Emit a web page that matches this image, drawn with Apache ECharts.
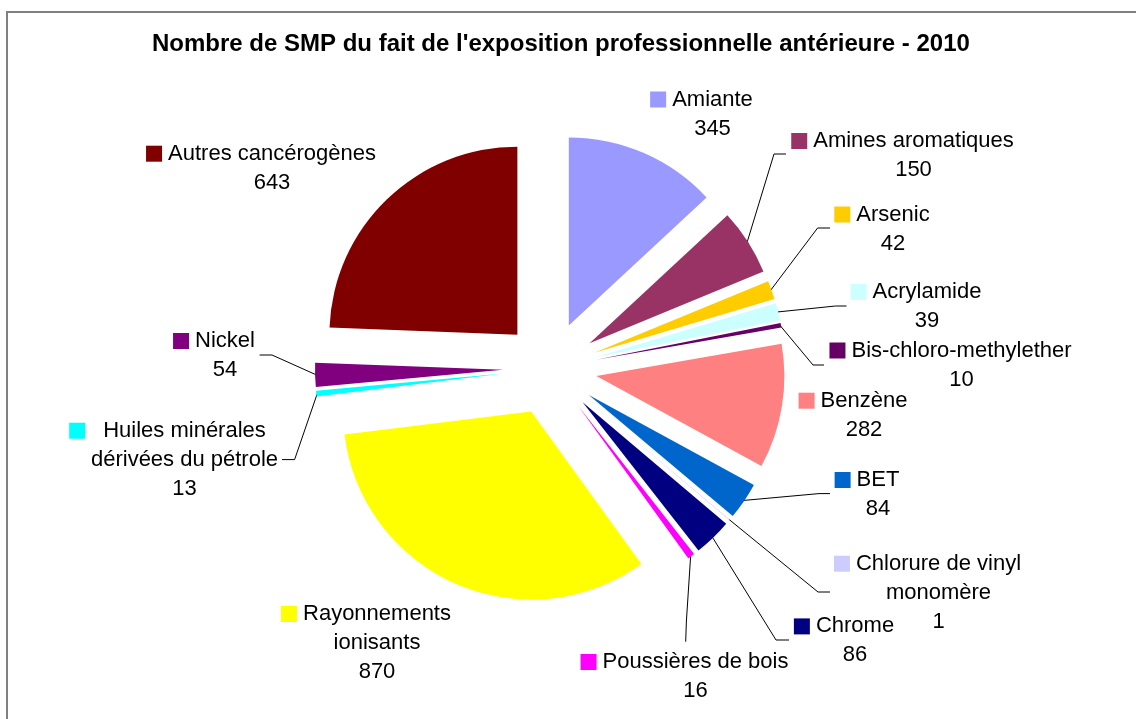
<!DOCTYPE html>
<html>
<head>
<meta charset="utf-8">
<title>SMP 2010</title>
<script src="https://cdn.jsdelivr.net/npm/echarts@6/dist/echarts.min.js"></script>
<style>
html, body {
	margin: 0;
	padding: 0;
	background: #fff;
}

#chart {
	width: 1136px;
	height: 719px;
}
</style>
</head>
<body>
<div id="chart"></div>
<script>
// data
var chartTitle = "Nombre de SMP du fait de l'exposition professionnelle antérieure - 2010";
var categories = ['Amiante', 'Amines aromatiques', 'Arsenic', 'Acrylamide', 'Bis-chloro-methylether', 'Benzène', 'BET',
	'Chlorure de vinyl monomère', 'Chrome', 'Poussières de bois', 'Rayonnements ionisants',
	'Huiles minérales dérivées du pétrole', 'Nickel', 'Autres cancérogènes'];
var values = [345, 150, 42, 39, 10, 282, 84, 1, 86, 16, 870, 13, 54, 643];
var colors = ['#9999FF', '#993366', '#FFCC00', '#CCFFFF', '#660066', '#FF8080', '#0066CC',
	'#CCCCFF', '#000080', '#FF00FF', '#FFFF00', '#00FFFF', '#800080', '#800000'];

// layout
var FONT = '"Liberation Sans", Arial, sans-serif';
var PIE_X = 550;
var PIE_Y = 368.5;
var RADIUS = 188;
var EXPLODE = 47;
var LINE_H = 29;

// line breaks of the excel labels
var labelBreaks = {
	'Chlorure de vinyl monomère': 'Chlorure de vinyl\nmonomère',
	'Rayonnements ionisants': 'Rayonnements\nionisants',
	'Huiles minérales dérivées du pétrole': 'Huiles minérales\ndérivées du pétrole'
};

// label spot: x = centre of the text, y = middle of first line, line = [elbow, end] of the leader line
var labelSpots = {
	'Amiante': { x: 712.5, y: 99.5 },
	'Amines aromatiques': { x: 913.5, y: 141, line: [[774, 154], [786, 154]] },
	'Arsenic': { x: 893, y: 214.5, line: [[817.6, 228], [830, 228]] },
	'Acrylamide': { x: 927, y: 292, line: [[835.5, 306], [846.5, 306]] },
	'Bis-chloro-methylether': { x: 961.5, y: 350.5, line: [[813, 365], [824, 365]] },
	'Benzène': { x: 864, y: 400.7 },
	'BET': { x: 878, y: 480, line: [[819, 493.6], [830, 493.6]] },
	'Chlorure de vinyl monomère': { x: 938.5, y: 563.7, line: [[818, 592], [830, 592]] },
	'Chrome': { x: 855, y: 626.4, line: [[776, 640], [789, 640]] },
	'Poussières de bois': { x: 695.5, y: 662, line: [[686.4, 621], [685.7, 641.7]] },
	'Rayonnements ionisants': { x: 377, y: 614 },
	'Huiles minérales dérivées du pétrole': { x: 184.5, y: 430.7, wide: true, line: [[294.6, 459.6], [282, 459.6]] },
	'Nickel': { x: 225, y: 341, line: [[272, 355], [259.6, 355]] },
	'Autres cancérogènes': { x: 272, y: 153.7 }
};

var total = 0;
for (var n = 0; n < values.length; n++) total += values[n];

// angle of the middle of a slice, clockwise from 12 o'clock
function midAngle(idx) {
	var before = 0;
	for (var k = 0; k < idx; k++) before += values[k];
	return (before + values[idx] / 2) / total * Math.PI * 2;
}

// each slice is pulled out along its middle angle
function sliceCenter(idx) {
	var a = midAngle(idx);
	return [PIE_X + EXPLODE * Math.sin(a), PIE_Y - EXPLODE * Math.cos(a)];
}

function slicePoint(idx) {
	var a = midAngle(idx);
	var c = sliceCenter(idx);
	return [c[0] + (RADIUS - 1) * Math.sin(a), c[1] - (RADIUS - 1) * Math.cos(a)];
}

var rich = {
	t: { fontFamily: FONT, fontSize: 22, color: '#000', lineHeight: LINE_H, align: 'center' },
	gap: { width: 6, lineHeight: LINE_H, align: 'center' },
	pad: { width: 22, lineHeight: LINE_H, align: 'center' },
	gapw: { width: 18, lineHeight: LINE_H, align: 'center' },
	padw: { width: 34, lineHeight: LINE_H, align: 'center' }
};
colors.forEach(function (c, k) {
	rich['k' + k] = { width: 16, height: 16, backgroundColor: c, lineHeight: LINE_H, align: 'center', verticalAlign: 'middle' };
});

function labelText(p) {
	var spot = labelSpots[p.name];
	var lines = (labelBreaks[p.name] || p.name).split('\n');
	var gap = spot.wide ? 'gapw' : 'gap';
	var pad = spot.wide ? 'padw' : 'pad';
	var out = ['{k' + p.dataIndex + '|}{' + gap + '|}{t|' + lines[0] + '}{' + pad + '|}'];
	for (var j = 1; j < lines.length; j++) out.push('{t|' + lines[j] + '}');
	out.push('{t|' + p.value + '}');
	return out.join('\n');
}

function placeLabel(params) {
	var name = categories[params.dataIndex];
	var spot = labelSpots[name];
	if (!spot) return {};
	var out = { x: spot.x, y: spot.y - LINE_H / 2, align: 'center', verticalAlign: 'top' };
	if (spot.line) {
		out.labelLinePoints = [slicePoint(params.dataIndex), spot.line[0], spot.line[1]];
	}
	return out;
}

// one pie per slice, only that slice painted
function buildSeries() {
	var list = [];
	categories.forEach(function (name, i) {
		list.push({
			type: 'pie',
			silent: true,
			animation: false,
			center: sliceCenter(i),
			radius: RADIUS,
			startAngle: 90,
			clockwise: true,
			avoidLabelOverlap: false,
			minAngle: 0,
			itemStyle: { borderWidth: 0 },
			label: {
				show: true,
				position: 'outside',
				width: 340,
				overflow: 'none',
				align: 'center',
				fontFamily: FONT,
				fontSize: 22,
				color: '#000',
				lineHeight: LINE_H,
				formatter: labelText,
				rich: rich
			},
			labelLine: {
				show: true,
				length: 10,
				length2: 10,
				smooth: false,
				lineStyle: { color: '#000', width: 1 }
			},
			labelLayout: placeLabel,
			data: categories.map(function (cat, k) {
				return {
					name: cat,
					value: values[k],
					itemStyle: { color: k === i ? colors[k] : 'rgba(0,0,0,0)' },
					label: { show: k === i },
					labelLine: { show: k === i && !!labelSpots[cat].line }
				};
			})
		});
	});
	return list;
}

var myChart = echarts.init(document.getElementById('chart'));
var option = {
	backgroundColor: '#fff',
	animation: false,
	title: {
		text: chartTitle,
		left: 147,
		top: 27,
		padding: 5,
		textStyle: {
			fontFamily: FONT,
			fontSize: 24,
			fontWeight: 'bold',
			color: '#000'
		}
	},
	graphic: [{
		type: 'rect',
		silent: true,
		z: -1,
		shape: { x: 7, y: 12, width: 1200, height: 800 },
		style: { fill: 'none', stroke: '#808080', lineWidth: 2 }
	}],
	series: buildSeries()
};
option && myChart.setOption(option);
</script>
</body>
</html>
